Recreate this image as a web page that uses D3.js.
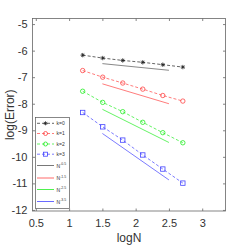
<!DOCTYPE html>
<html><head><meta charset="utf-8">
<script src="https://cdn.jsdelivr.net/npm/d3@7"></script>
<style>body{margin:0;background:#fff}svg{display:block}text{font-family:"Liberation Sans",Arial,sans-serif}</style>
</head><body>
<script>
const logN = [1.204, 1.505, 1.806, 2.107, 2.408, 2.709];
const errK0 = [-6.17, -6.28, -6.37, -6.44, -6.53, -6.62];
const errK1 = [-6.75, -7.00, -7.22, -7.45, -7.69, -7.90];
const errK2 = [-7.53, -7.95, -8.30, -8.70, -9.09, -9.47];
const errK3 = [-8.33, -8.87, -9.37, -9.93, -10.46, -10.99];
const refX = [1.5, 2.5];
const ref05 = [-6.49, -6.74];
const ref15 = [-7.25, -8.00];
const ref25 = [-8.21, -9.46];
const ref35 = [-9.12, -10.87];
const xTicks = [0.5, 1, 1.5, 2, 2.5, 3];
const yTicks = [-12, -11, -10, -9, -8, -7, -6, -5];

const series = [
  {name: "k=0", vals: errK0, color: "#222", marker: "star"},
  {name: "k=1", vals: errK1, color: "#ff4444", marker: "circle"},
  {name: "k=2", vals: errK2, color: "#22ee22", marker: "circle"},
  {name: "k=3", vals: errK3, color: "#4444ff", marker: "square"}
];
const refs = [
  {exp: "-0.5", vals: ref05, color: "#555"},
  {exp: "-1.5", vals: ref15, color: "#ff4444"},
  {exp: "-2.5", vals: ref25, color: "#22ee22"},
  {exp: "-3.5", vals: ref35, color: "#4444ff"}
];

const W = 249, H = 249;
const L = 32.5, R = 225.5, T = 18.5, B = 211;
const svg = d3.select("body").append("svg").attr("width", W).attr("height", H);
const x = d3.scaleLinear().domain([0.45, 3.35]).range([L, R]);
const y = d3.scaleLinear().domain([-12.04, -4.79]).range([B, T]);

const axisColor = "#666";
svg.append("rect").attr("x", L).attr("y", T).attr("width", R - L).attr("height", B - T)
  .attr("fill", "none").attr("stroke", axisColor).attr("stroke-width", 0.8);

const fmt = d => String(d);
const gx = svg.append("g").attr("transform", `translate(0,${B})`)
  .call(d3.axisBottom(x).tickValues(xTicks).tickFormat(fmt).tickSizeInner(-2.5).tickSizeOuter(0).tickPadding(8));
const gxt = svg.append("g").attr("transform", `translate(0,${T})`)
  .call(d3.axisTop(x).tickValues(xTicks).tickFormat("").tickSizeInner(-2.5).tickSizeOuter(0));
const gy = svg.append("g").attr("transform", `translate(${L},0)`)
  .call(d3.axisLeft(y).tickValues(yTicks).tickFormat(fmt).tickSizeInner(-2.5).tickSizeOuter(0).tickPadding(5));
const gyr = svg.append("g").attr("transform", `translate(${R},0)`)
  .call(d3.axisRight(y).tickValues(yTicks).tickFormat("").tickSizeInner(-2.5).tickSizeOuter(0));
[gx, gxt, gy, gyr].forEach(g => {
  g.select(".domain").remove();
  g.selectAll("line").attr("stroke", axisColor).attr("stroke-width", 0.8);
  g.selectAll("text").attr("fill", "#333").style("font-size", "11px").attr("font-family", "Liberation Sans, Arial, sans-serif");
});

svg.append("text").attr("x", (L + R) / 2).attr("y", 242).attr("text-anchor", "middle")
  .attr("fill", "#333").style("font-size", "12px").text("logN");
svg.append("text").attr("transform", `translate(14,${(T + B) / 2}) rotate(-90)`).attr("text-anchor", "middle")
  .attr("fill", "#333").style("font-size", "12px").text("log(Error)");

const line = d3.line().x(d => x(d[0])).y(d => y(d[1]));

function drawMarker(g, type, cx, cy, color, s) {
  if (type === "circle") {
    g.append("circle").attr("cx", cx).attr("cy", cy).attr("r", s).attr("fill", "none").attr("stroke", color).attr("stroke-width", 0.8);
  } else if (type === "square") {
    g.append("rect").attr("x", cx - s).attr("y", cy - s).attr("width", 2 * s).attr("height", 2 * s).attr("fill", "none").attr("stroke", color).attr("stroke-width", 0.8);
  } else {
    const p = d3.path();
    for (let i = 0; i < 4; i++) {
      const a = i * Math.PI / 4;
      p.moveTo(cx - s * Math.cos(a), cy - s * Math.sin(a));
      p.lineTo(cx + s * Math.cos(a), cy + s * Math.sin(a));
    }
    g.append("path").attr("d", p.toString()).attr("stroke", color).attr("stroke-width", 0.8);
  }
}

refs.forEach(r => {
  svg.append("path").attr("d", line(refX.map((v, i) => [v, r.vals[i]])))
    .attr("fill", "none").attr("stroke", r.color).attr("stroke-width", 0.7);
});
series.forEach(s => {
  const pts = logN.map((v, i) => [v, s.vals[i]]);
  svg.append("path").attr("d", line(pts)).attr("fill", "none").attr("stroke", s.color)
    .attr("stroke-width", 0.7).attr("stroke-dasharray", "3,2");
  const g = svg.append("g");
  pts.forEach(p => drawMarker(g, s.marker, x(p[0]), y(p[1]), s.color, 2.2));
});

const lg = svg.append("g");
const lx0 = 35.5, ly0 = 117.5, lx1 = 69.5, ly1 = 208.5;
lg.append("rect").attr("x", lx0).attr("y", ly0).attr("width", lx1 - lx0).attr("height", ly1 - ly0)
  .attr("fill", "#fff").attr("stroke", "#555").attr("stroke-width", 0.7);
const rowsY = [123.3, 133.5, 144, 154.2, 165.5, 178, 189.5, 201.5];
series.forEach((s, i) => {
  const yy = rowsY[i];
  lg.append("line").attr("x1", 37).attr("x2", 54).attr("y1", yy).attr("y2", yy)
    .attr("stroke", s.color).attr("stroke-width", 0.7).attr("stroke-dasharray", "3,2");
  drawMarker(lg, s.marker, 45.5, yy, s.color, 2);
  lg.append("text").attr("x", 56.5).attr("y", yy + 1.8).attr("fill", "#333").style("font-size", "5px").text(s.name);
});
refs.forEach((r, i) => {
  const yy = rowsY[4 + i];
  lg.append("line").attr("x1", 37).attr("x2", 54).attr("y1", yy).attr("y2", yy)
    .attr("stroke", r.color).attr("stroke-width", 0.8);
  const t = lg.append("text").attr("x", 56.5).attr("y", yy + 2).attr("fill", "#333").style("font-size", "5px");
  t.append("tspan").text("N");
  t.append("tspan").attr("dy", -2.5).style("font-size", "3.5px").text(r.exp);
});
</script>
</body></html>
